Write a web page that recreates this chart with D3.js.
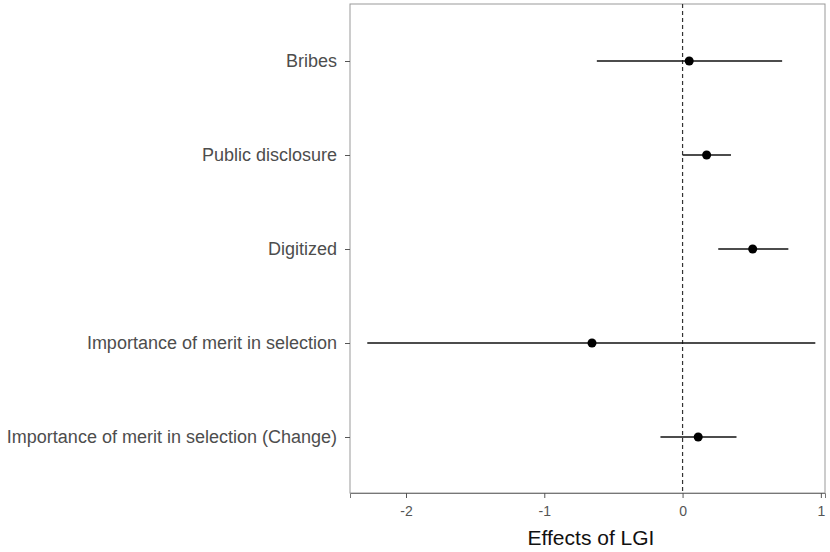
<!DOCTYPE html>
<html><head><meta charset="utf-8">
<script src="https://cdn.jsdelivr.net/npm/d3@7"></script>
<style>body{margin:0;background:#fff;} text{font-family:"Liberation Sans",Arial,sans-serif;}</style>
</head><body><svg id="c" width="830" height="552"></svg>
<script>
const categories = ["Bribes","Public disclosure","Digitized","Importance of merit in selection","Importance of merit in selection (Change)"];
const estimates = [0.048, 0.174, 0.507, -0.655, 0.113];
const lower = [-0.62, 0.0, 0.258, -2.28, -0.16];
const upper = [0.72, 0.35, 0.765, 0.96, 0.39];
const xTicks = [-2, -1, 0, 1];

const svg = d3.select("#c");
const L = 350, R = 825, T = 4, B = 493;
const x = d3.scaleLinear().domain([-2.405, 1.03]).range([L, R]);
const y = d3.scalePoint().domain(categories).range([61, 437]);

svg.append("rect").attr("x", L).attr("y", T).attr("width", R - L).attr("height", B - T)
  .attr("fill", "#fff").attr("stroke", "#999").attr("stroke-width", 1);

// zero line
svg.append("line").attr("x1", x(0)).attr("x2", x(0)).attr("y1", T).attr("y2", B)
  .attr("stroke", "#333").attr("stroke-width", 1.2).attr("stroke-dasharray", "4,3");

const data = categories.map((c, i) => ({c, est: estimates[i], lo: lower[i], hi: upper[i]}));
svg.selectAll("line.ci").data(data).join("line").attr("class", "ci")
  .attr("x1", d => x(d.lo)).attr("x2", d => x(d.hi))
  .attr("y1", d => y(d.c)).attr("y2", d => y(d.c))
  .attr("stroke", "#111").attr("stroke-width", 1.5);
svg.selectAll("circle").data(data).join("circle")
  .attr("cx", d => x(d.est)).attr("cy", d => y(d.c)).attr("r", 4.5).attr("fill", "#000");

// x axis
const xa = svg.append("g").attr("transform", `translate(0,${B})`)
  .call(d3.axisBottom(x).tickValues(xTicks).tickSize(5).tickPadding(4).tickFormat(d => String(d)));
xa.select(".domain").attr("stroke", "#777");
xa.selectAll(".tick line").attr("stroke", "#555");
xa.selectAll("text").attr("fill", "#555").attr("font-size", 14).attr("dy", "1.0em")
  .style("font-family", "'Liberation Sans',Arial,sans-serif");

// y axis
const ya = svg.append("g").attr("transform", `translate(${L},0)`)
  .call(d3.axisLeft(y).tickSize(5).tickPadding(8));
ya.select(".domain").remove();
ya.selectAll(".tick line").attr("stroke", "#555");
ya.selectAll("text").attr("fill", "#4d4d4d").attr("font-size", 18)
  .style("font-family", "'Liberation Sans',Arial,sans-serif");

svg.append("text").attr("x", 591).attr("y", 545).attr("text-anchor", "middle")
  .attr("font-size", 21).attr("fill", "#111").text("Effects of LGI");
</script></body></html>
